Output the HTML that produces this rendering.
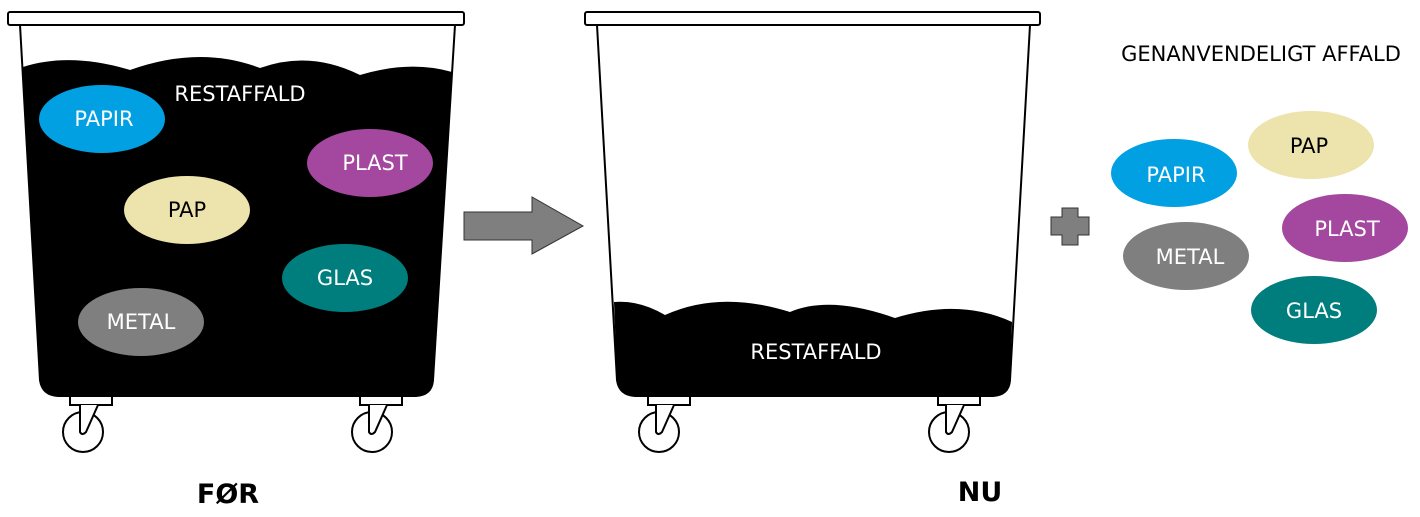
<!DOCTYPE html>
<html><head><style>body{margin:0;background:#fff}svg{display:block}text{font-family:"DejaVu Sans","Liberation Sans",sans-serif}</style></head><body>
<svg width="1420" height="517" viewBox="0 0 1420 517" xmlns="http://www.w3.org/2000/svg">
<!-- Bin 1 -->
<path d="M20 25 L40 380 Q42 395 58 396 L416 396 Q432 395 433 380 L455 25" fill="#fff" stroke="#000" stroke-width="2"/>
<path d="M23 67 Q70 52 130 70 Q200 45 260 68 Q310 50 360 75 Q410 60 452 72 L433 380 Q432 395 416 396 L58 396 Q42 395 40 380 Z" fill="#000"/>
<rect x="8" y="12" width="456" height="13" rx="2" fill="#fff" stroke="#000" stroke-width="2"/>
<g fill="#fff" stroke="#000" stroke-width="2">
<rect x="70" y="396" width="42" height="9"/><circle cx="83" cy="432" r="20"/><path d="M80 405 L80 432 Q82 436 86 432 L98 405"/>
<rect x="360" y="396" width="42" height="9"/><circle cx="372" cy="432" r="20"/><path d="M369 405 L369 432 Q371 436 375 432 L387 405"/>
</g>
<text x="240" y="101" fill="#fff" font-size="21" text-anchor="middle">RESTAFFALD</text>
<g font-size="21" text-anchor="middle">
<ellipse cx="102" cy="119" rx="63" ry="34" fill="#00a0e3"/><text x="104" y="126" fill="#fff">PAPIR</text>
<ellipse cx="370" cy="163" rx="63" ry="34" fill="#a4479e"/><text x="375" y="170" fill="#fff">PLAST</text>
<ellipse cx="187" cy="210" rx="63" ry="34" fill="#ede3ad"/><text x="187" y="217" fill="#000">PAP</text>
<ellipse cx="345" cy="278" rx="63" ry="34" fill="#007e7e"/><text x="345" y="285" fill="#fff">GLAS</text>
<ellipse cx="141" cy="322" rx="63" ry="34" fill="#7f7f7f"/><text x="141" y="329" fill="#fff">METAL</text>
</g>
<text x="228" y="503" font-size="27" font-weight="bold" text-anchor="middle">FØR</text>
<!-- Arrow -->
<path d="M464 212 L532 212 L532 197 L583 226 L532 254 L532 240 L464 240 Z" fill="#7f7f7f" stroke="#333" stroke-width="1"/>
<!-- Bin 2 -->
<path d="M597 25 L617 380 Q619 395 635 396 L993 396 Q1009 395 1010 380 L1030 25" fill="#fff" stroke="#000" stroke-width="2"/>
<path d="M614 302 Q640 300 665 315 Q720 290 790 312 Q830 295 895 318 Q960 298 1012 322 L1010 380 Q1009 395 993 396 L635 396 Q619 395 617 380 Z" fill="#000"/>
<rect x="585" y="12" width="455" height="13" rx="2" fill="#fff" stroke="#000" stroke-width="2"/>
<g fill="#fff" stroke="#000" stroke-width="2">
<rect x="648" y="396" width="42" height="9"/><circle cx="659" cy="432" r="20"/><path d="M656 405 L656 432 Q658 436 662 432 L674 405"/>
<rect x="938" y="396" width="42" height="9"/><circle cx="949" cy="432" r="20"/><path d="M946 405 L946 432 Q948 436 952 432 L964 405"/>
</g>
<text x="816" y="359" fill="#fff" font-size="21" text-anchor="middle">RESTAFFALD</text>
<text x="980" y="501" font-size="27" font-weight="bold" text-anchor="middle">NU</text>
<!-- Plus -->
<path d="M1062 217 L1062 208 L1078 208 L1078 217 L1089 217 L1089 235 L1078 235 L1078 245 L1062 245 L1062 235 L1051 235 L1051 217 Z" fill="#7f7f7f" stroke="#333" stroke-width="1"/>
<!-- Right group -->
<text x="1261" y="61" font-size="21" text-anchor="middle">GENANVENDELIGT AFFALD</text>
<g font-size="21" text-anchor="middle">
<ellipse cx="1311" cy="145" rx="63" ry="34" fill="#ede3ad"/><text x="1309" y="153" fill="#000">PAP</text>
<ellipse cx="1174" cy="173" rx="63" ry="34" fill="#00a0e3"/><text x="1176" y="182" fill="#fff">PAPIR</text>
<ellipse cx="1345" cy="228" rx="63" ry="34" fill="#a4479e"/><text x="1347" y="236" fill="#fff">PLAST</text>
<ellipse cx="1186" cy="256" rx="63" ry="34" fill="#7f7f7f"/><text x="1190" y="264" fill="#fff">METAL</text>
<ellipse cx="1314" cy="310" rx="63" ry="34" fill="#007e7e"/><text x="1314" y="318" fill="#fff">GLAS</text>
</g>
</svg>
</body></html>
